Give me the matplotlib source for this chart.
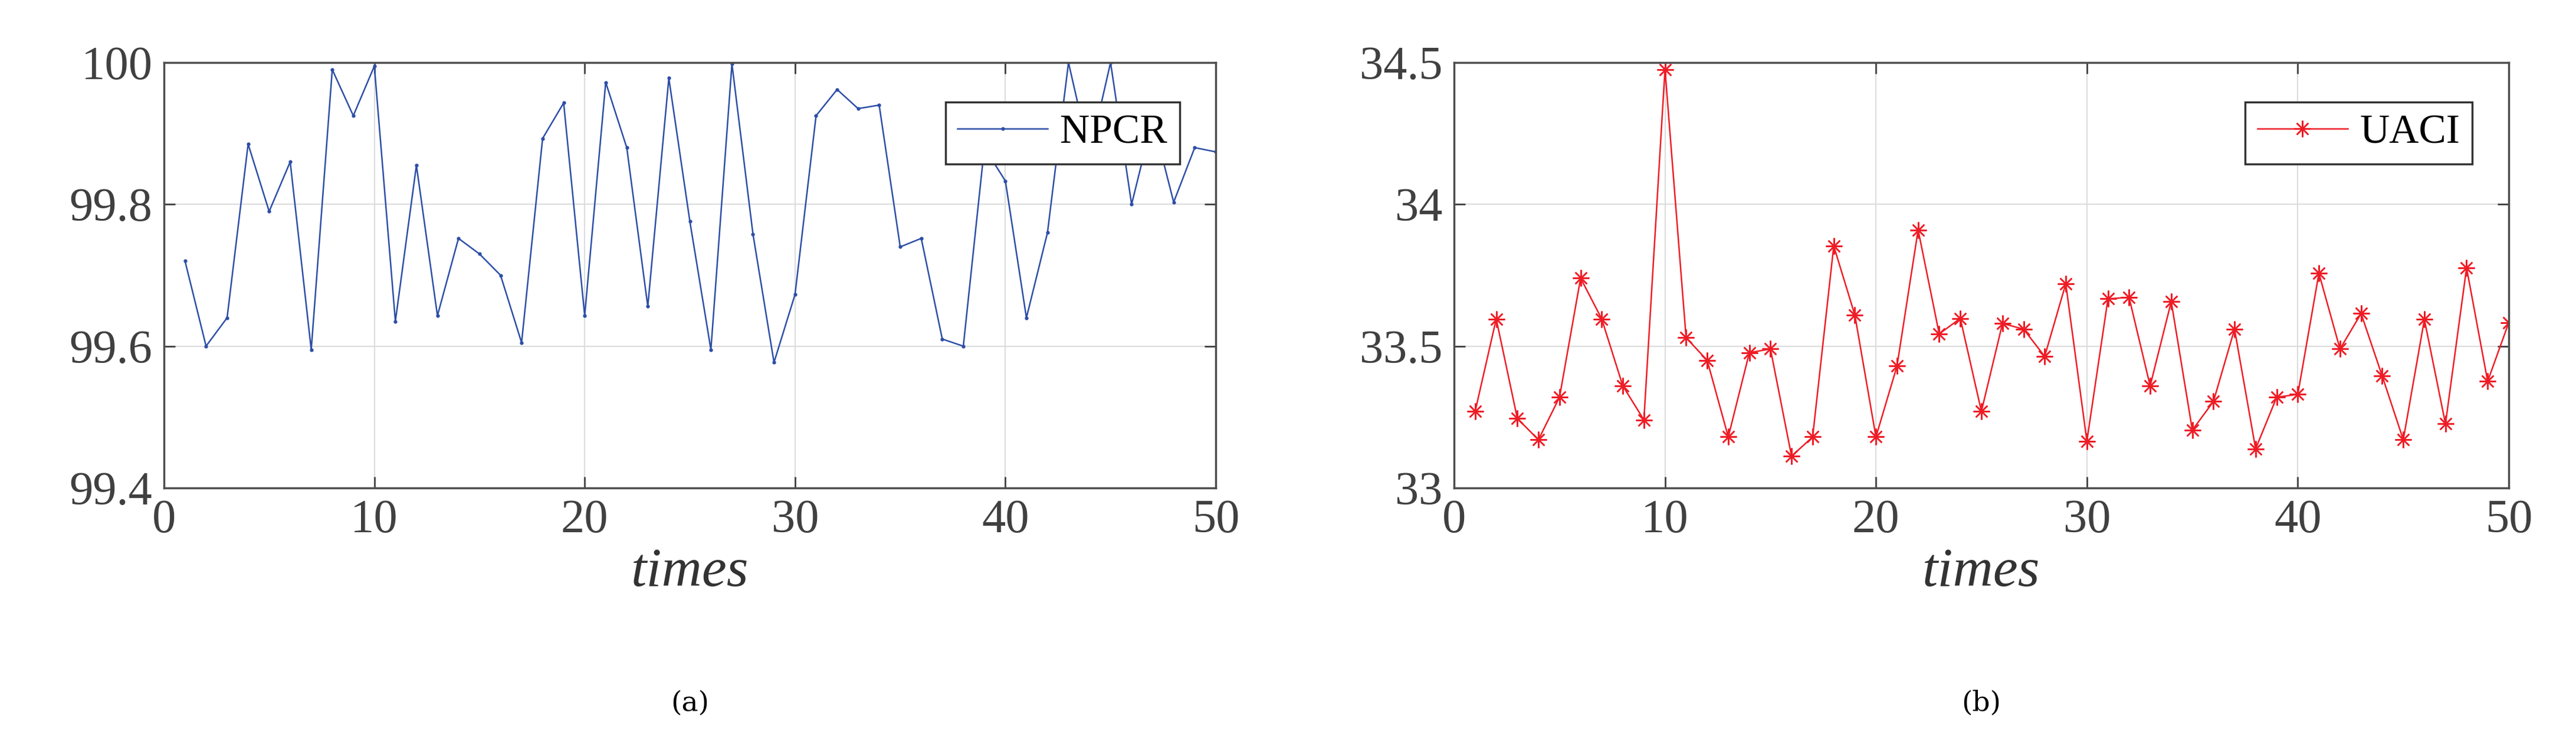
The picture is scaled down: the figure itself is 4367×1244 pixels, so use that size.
import matplotlib
matplotlib.use('Agg')
import matplotlib.pyplot as plt

times = list(range(1, 51))
npcr = [99.72, 99.60, 99.64, 99.885, 99.79, 99.86, 99.595, 99.99, 99.925, 99.995,
        99.635, 99.855, 99.643, 99.752, 99.73, 99.70, 99.605, 99.893, 99.943, 99.643,
        99.972, 99.88, 99.656, 99.978, 99.776, 99.595, 99.998, 99.758, 99.577, 99.673,
        99.925, 99.962, 99.935, 99.94, 99.74, 99.752, 99.61, 99.60, 99.88, 99.833,
        99.64, 99.76, 100.0, 99.87, 100.0, 99.80, 99.92, 99.803, 99.88, 99.874]
uaci = [33.27, 33.596, 33.245, 33.17, 33.32, 33.74, 33.596, 33.36, 33.24, 34.476,
        33.53, 33.45, 33.18, 33.477, 33.49, 33.112, 33.18, 33.853, 33.61, 33.18,
        33.43, 33.91, 33.543, 33.598, 33.27, 33.58, 33.56, 33.464, 33.72, 33.165,
        33.667, 33.672, 33.36, 33.657, 33.204, 33.305, 33.56, 33.138, 33.32, 33.33,
        33.757, 33.49, 33.615, 33.395, 33.17, 33.594, 33.226, 33.776, 33.376, 33.583]

plt.rcParams['font.family'] = 'serif'
plt.rcParams['font.serif'] = ['Liberation Serif', 'DejaVu Serif']
plt.rcParams['mathtext.fontset'] = 'custom'
W, H = 4367, 1244
fig = plt.figure(figsize=(W / 100, H / 100), dpi=100)

def style(ax, ylim, yticks, ytl):
    ax.set_xlim(0, 50)
    ax.set_ylim(*ylim)
    ax.set_xticks([0, 10, 20, 30, 40, 50])
    ax.set_yticks(yticks)
    ax.set_yticklabels(ytl)
    ax.grid(True, color='#dcdcdc', linewidth=1.5)
    ax.tick_params(direction='in', length=14, width=2, top=True, right=True,
                   labelsize=58, pad=14, colors='#404040')
    for s in ax.spines.values():
        s.set_color('#4d4d4d')
        s.set_linewidth(2.5)
    ax.set_xlabel('times', fontsize=68, style='italic', color='#333333', labelpad=6)
    leg = ax.legend(loc='upper right', fontsize=50, fancybox=False, framealpha=1,
                    edgecolor='#333333', borderpad=0.3, handlelength=2.2,
                    handletextpad=0.3, bbox_to_anchor=(0.985, 0.955))
    leg.get_frame().set_linewidth(2.5)

ax1 = fig.add_axes([278 / W, 1 - 827 / H, (2061 - 278) / W, (827 - 106) / H])
ax1.plot(times, npcr, color='#2c4ea6', linewidth=1.8, marker='.', markersize=7,
         label='NPCR')
style(ax1, (99.4, 100), [99.4, 99.6, 99.8, 100], ['99.4', '99.6', '99.8', '100'])

ax2 = fig.add_axes([2465 / W, 1 - 827 / H, (4253 - 2465) / W, (827 - 106) / H])
ax2.plot(times, uaci, color='#ee1c25', linewidth=1.8, marker=(8, 2, 0), markersize=20,
         markeredgewidth=1.8, label='UACI')
style(ax2, (33, 34.5), [33, 33.5, 34, 34.5], ['33', '33.5', '34', '34.5'])

fig.text((278 + 2061) / 2 / W, 1 - 1192 / H, '(a)', fontsize=34, ha='center',
         va='center', family='DejaVu Serif')
fig.text((2465 + 4253) / 2 / W, 1 - 1192 / H, '(b)', fontsize=34, ha='center',
         va='center', family='DejaVu Serif')

fig.savefig('out.png', dpi=100)
